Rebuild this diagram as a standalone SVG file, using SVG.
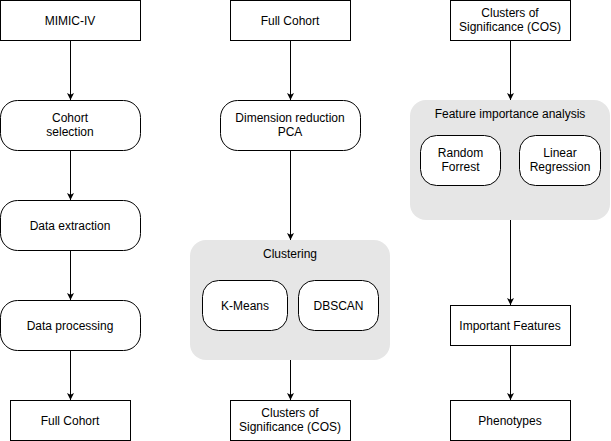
<svg xmlns="http://www.w3.org/2000/svg" width="611" height="441" viewBox="0 0 611 441">
<defs>
<marker id="arr" markerWidth="10" markerHeight="10" refX="7" refY="4" orient="auto" markerUnits="userSpaceOnUse">
<path d="M0,0.5 L7,4 L0,7.5 L1.8,4 Z" fill="#000"/>
</marker>
<style>
.box{fill:#fff;stroke:#000;stroke-width:1}
.cont{fill:#e6e6e6;stroke:none}
.t{font-family:"Liberation Sans",Arial,Helvetica,sans-serif;font-size:12px;fill:#000;text-anchor:middle}
.e{fill:none;stroke:#000;stroke-width:1;marker-end:url(#arr)}
</style>
</defs>
<rect width="611" height="441" fill="#fff"/>
<g id="mimic"><rect class="box" x="0.5" y="0.5" width="140" height="40"/><text class="t" x="70" y="24.5">MIMIC-IV</text></g>
<g id="cohort-selection"><rect class="box" x="0.5" y="100.5" width="140" height="50" rx="17"/><text class="t" x="70" y="122">Cohort</text><text class="t" x="70" y="136">selection</text></g>
<g id="data-extraction"><rect class="box" x="0.5" y="200.5" width="140" height="50" rx="17"/><text class="t" x="70" y="229.5">Data extraction</text></g>
<g id="data-processing"><rect class="box" x="0.5" y="300.5" width="140" height="50" rx="17"/><text class="t" x="70" y="329.5">Data processing</text></g>
<g id="full-cohort-1"><rect class="box" x="10.5" y="400.5" width="120" height="40"/><text class="t" x="70" y="424.5">Full Cohort</text></g>

<g id="full-cohort-2"><rect class="box" x="230.5" y="0.5" width="120" height="40"/><text class="t" x="290" y="24.5">Full Cohort</text></g>
<g id="pca"><rect class="box" x="220.5" y="100.5" width="140" height="50" rx="17"/><text class="t" x="290" y="122">Dimension reduction</text><text class="t" x="290" y="136">PCA</text></g>
<g id="clustering"><rect class="cont" x="190" y="240" width="200" height="120" rx="16"/><text class="t" x="290" y="258">Clustering</text></g>
<g id="kmeans"><rect class="box" x="202.5" y="280.5" width="85" height="50" rx="16"/><text class="t" x="245" y="309.5">K-Means</text></g>
<g id="dbscan"><rect class="box" x="298.5" y="280.5" width="80" height="50" rx="16"/><text class="t" x="338.5" y="309.5">DBSCAN</text></g>
<g id="cos-1"><rect class="box" x="230.5" y="400.5" width="120" height="40"/><text class="t" x="290" y="417">Clusters of</text><text class="t" x="290" y="431">Significance (COS)</text></g>

<g id="cos-2"><rect class="box" x="450.5" y="0.5" width="120" height="40"/><text class="t" x="510" y="17">Clusters of</text><text class="t" x="510" y="31">Significance (COS)</text></g>
<g id="feature-importance"><rect class="cont" x="410" y="100" width="200" height="120" rx="16"/><text class="t" x="510" y="118">Feature importance analysis</text></g>
<g id="random-forrest"><rect class="box" x="420.5" y="135.5" width="80" height="50" rx="16"/><text class="t" x="460.5" y="157">Random</text><text class="t" x="460.5" y="171">Forrest</text></g>
<g id="linear-regression"><rect class="box" x="519.5" y="135.5" width="81" height="50" rx="16"/><text class="t" x="560" y="157">Linear</text><text class="t" x="560" y="171">Regression</text></g>
<g id="important-features"><rect class="box" x="450.5" y="305.5" width="120" height="40"/><text class="t" x="510" y="329.5">Important Features</text></g>
<g id="phenotypes"><rect class="box" x="450.5" y="400.5" width="120" height="40"/><text class="t" x="510" y="424.5">Phenotypes</text></g>

<g id="connectors">
<path class="e" d="M70.5,40.5 V100"/>
<path class="e" d="M70.5,150.5 V200"/>
<path class="e" d="M70.5,250.5 V300"/>
<path class="e" d="M70.5,350.5 V400"/>
<path class="e" d="M290.5,40.5 V100"/>
<path class="e" d="M290.5,150.5 V240"/>
<path class="e" d="M290.5,360 V400"/>
<path class="e" d="M510.5,40.5 V100"/>
<path class="e" d="M510.5,220 V305"/>
<path class="e" d="M510.5,345.5 V400"/>
</g>
</svg>
